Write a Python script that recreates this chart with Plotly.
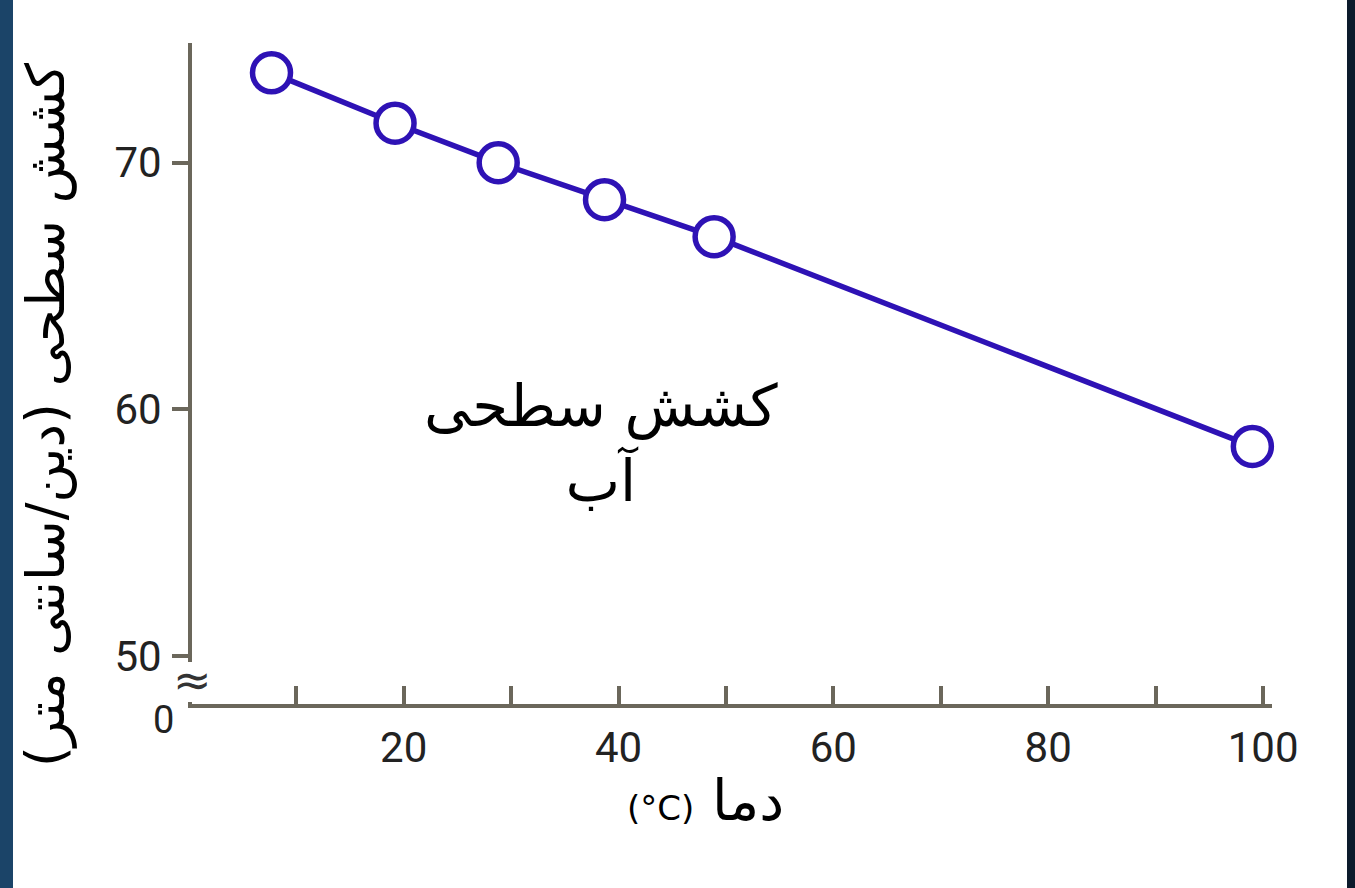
import plotly.graph_objects as go

# ---- data ----
temperature = [7.7, 19.2, 28.8, 38.7, 48.9, 99.0]
surface_tension = [73.64, 71.6, 70.0, 68.5, 67.0, 58.5]
x_tick_vals = [10, 20, 30, 40, 50, 60, 70, 80, 90, 100]
x_tick_text = ["", "20", "", "40", "", "60", "", "80", "", "100"]
y_tick_vals = [50, 60, 70]
y_tick_text = ["50", "60", "70"]
y_title = "کشش سطحی (دین/سانتی متر)\u200f"
x_title_ar = "دما"
x_title_unit = "(°C)"
center_label = "کشش سطحی<br>آب"

W, H = 1355, 888
L, R, T, B = 192, 83, 43, 184
PW, PH = W - L - R, H - T - B

def px(x):
    return (x - L) / PW

def py(y):
    return (H - B - y) / PH

AX = "#6b675b"
LINE = "#2e12b5"
TXT = "#222222"
NUM_FONT = "Roboto, Arial, sans-serif"
AR_FONT = "DejaVu Sans, Noto Sans, sans-serif"

fig = go.Figure()
fig.add_trace(go.Scatter(
    x=temperature, y=surface_tension, mode="lines+markers",
    line=dict(color=LINE, width=5.5),
    marker=dict(symbol="circle", size=38, color="white",
                line=dict(color=LINE, width=5.5)),
    showlegend=False, hoverinfo="x+y", cliponaxis=False,
))

fig.update_layout(
    width=W, height=H,
    margin=dict(l=L, r=R, t=T, b=B, pad=0),
    paper_bgcolor="white", plot_bgcolor="white",
    xaxis=dict(range=[0.3, 100.83], showgrid=False, zeroline=False,
               showline=True, linecolor=AX, linewidth=4,
               tickmode="array", tickvals=x_tick_vals, ticktext=x_tick_text,
               ticks="inside", ticklen=18, tickwidth=4, tickcolor=AX,
               ticklabelstandoff=4,
               tickfont=dict(family=NUM_FONT, size=42, color=TXT)),
    yaxis=dict(range=[48.06, 74.85], showgrid=False, zeroline=False,
               showline=True, linecolor=AX, linewidth=4,
               tickmode="array", tickvals=y_tick_vals, ticktext=y_tick_text,
               ticks="outside", ticklen=16, tickwidth=4, tickcolor=AX,
               ticklabelstandoff=2,
               tickfont=dict(family=NUM_FONT, size=42, color=TXT)),
    shapes=[
        dict(type="rect", xref="paper", yref="paper",
             x0=px(0), x1=px(13), y0=py(H), y1=py(0),
             fillcolor="#1b4468", line=dict(width=0), layer="above"),
        dict(type="rect", xref="paper", yref="paper",
             x0=px(1347), x1=px(W), y0=py(H), y1=py(0),
             fillcolor="#0c1b2c", line=dict(width=0), layer="above"),
        # gap in the y axis line for the axis-break mark
        dict(type="rect", xref="paper", yref="paper",
             x0=px(185), x1=px(196), y0=py(702), y1=py(662),
             fillcolor="white", line=dict(width=0), layer="above"),
    ],
    annotations=[
        dict(text=y_title, xref="paper", yref="paper", x=px(46), y=py(415),
             xanchor="center", yanchor="middle", textangle=-90, showarrow=False,
             font=dict(family=AR_FONT, size=53, color="black")),
        dict(text=f"<span style='font-size:34px'>{x_title_unit}</span> {x_title_ar}",
             xref="paper", yref="paper", x=px(705), y=py(800),
             xanchor="center", yanchor="middle", showarrow=False,
             font=dict(family=AR_FONT, size=56, color="black")),
        dict(text=center_label, xref="x", yref="y", x=38.4, y=58.6,
             xanchor="center", yanchor="middle", showarrow=False,
             font=dict(family=AR_FONT, size=58, color="black")),
        dict(text="0", xref="paper", yref="paper", x=px(163), y=py(720),
             xanchor="center", yanchor="middle", showarrow=False,
             font=dict(family=NUM_FONT, size=38, color=TXT)),
        dict(text="≈", xref="paper", yref="paper", x=px(192), y=py(680),
             xanchor="center", yanchor="middle", showarrow=False,
             font=dict(family="DejaVu Sans", size=46, color="#333")),
    ],
)

fig.write_html(
    "out.html",
    config={"displayModeBar": False},
    post_script="document.body.style.margin='0';document.body.style.overflow='hidden';",
)
